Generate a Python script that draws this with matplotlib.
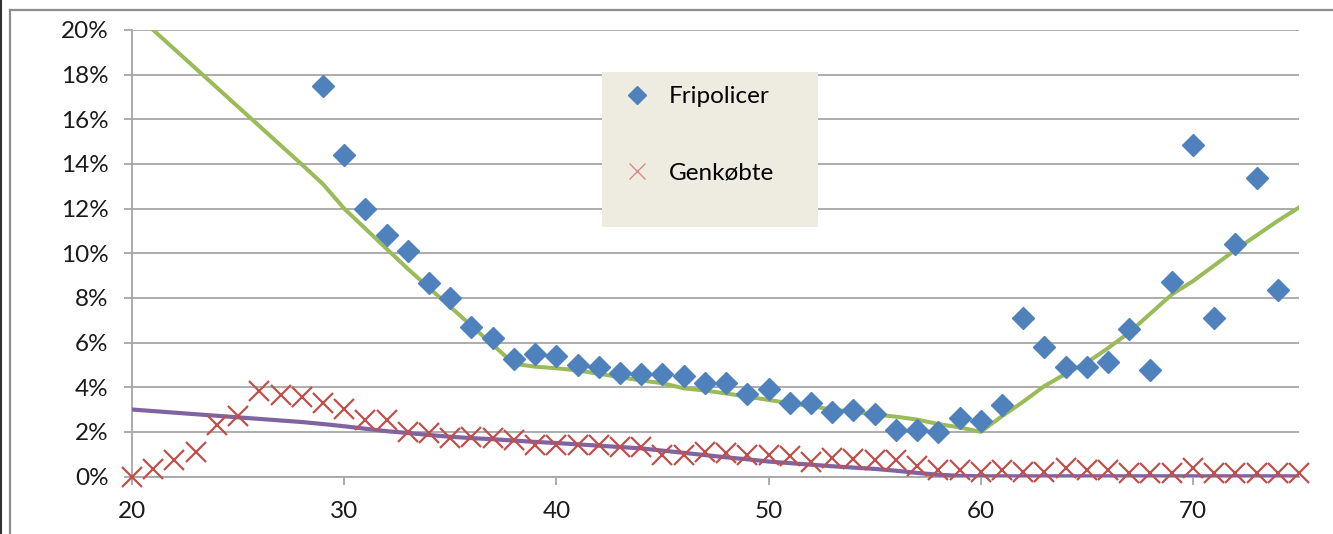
import matplotlib.pyplot as plt
from matplotlib.ticker import FuncFormatter, MultipleLocator
from matplotlib.lines import Line2D

plt.rcParams['font.family'] = ['Lato', 'DejaVu Sans']

# observed shares in percent, by age
fri_ages = list(range(29, 75))
fripolicer = [17.5, 14.4, 12.0, 10.8, 10.1, 8.65, 8.0, 6.7, 6.2, 5.25,
              5.5, 5.4, 5.0, 4.9, 4.65, 4.6, 4.6, 4.5, 4.2, 4.2,
              3.7, 3.9, 3.3, 3.3, 2.9, 3.0, 2.8, 2.1, 2.1, 2.0,
              2.6, 2.5, 3.2, 7.1, 5.8, 4.9, 4.9, 5.15, 6.6, 4.75,
              8.7, 14.85, 7.1, 10.4, 13.35, 8.35]

gen_ages = list(range(20, 76))
genkobte = [0.0, 0.34, 0.76, 1.1, 2.29, 2.71, 3.81, 3.66, 3.56, 3.27,
            3.04, 2.52, 2.52, 2.0, 1.94, 1.72, 1.78, 1.72, 1.63, 1.41,
            1.41, 1.41, 1.4, 1.33, 1.33, 0.96, 0.96, 1.11, 1.04, 0.96,
            0.96, 0.9, 0.67, 0.85, 0.8, 0.75, 0.75, 0.45, 0.3, 0.3,
            0.22, 0.3, 0.22, 0.22, 0.37, 0.3, 0.3, 0.15, 0.15, 0.15,
            0.37, 0.15, 0.15, 0.15, 0.15, 0.15]

# fitted curves, by age
fit_ages = list(range(20, 76))
fri_fit = [20.85, 20.0, 19.14, 18.28, 17.42, 16.56, 15.7, 14.84, 13.98, 13.1,
           12.0, 11.1, 10.2, 9.3, 8.45, 7.6, 6.75, 5.9, 5.05, 4.92,
           4.85, 4.75, 4.6, 4.45, 4.3, 4.18, 3.95, 3.85, 3.72, 3.58,
           3.43, 3.28, 3.15, 3.0, 2.9, 2.78, 2.68, 2.55, 2.35, 2.2,
           2.0, 2.7, 3.35, 4.05, 4.6, 5.1, 5.75, 6.45, 7.3, 8.15,
           8.75, 9.45, 10.15, 10.8, 11.45, 12.05]
gen_fit = [3.0, 2.93, 2.86, 2.79, 2.72, 2.65, 2.58, 2.51, 2.44, 2.35,
           2.25, 2.14, 2.03, 1.95, 1.86, 1.78, 1.72, 1.67, 1.61, 1.55,
           1.5, 1.44, 1.38, 1.32, 1.26, 1.16, 1.06, 0.96, 0.86, 0.77,
           0.67, 0.6, 0.53, 0.46, 0.4, 0.34, 0.26, 0.16, 0.08, 0.03,
           0.01, 0.01, 0.01, 0.01, 0.01, 0.01, 0.01, 0.01, 0.01, 0.01,
           0.01, 0.01, 0.01, 0.01, 0.01, 0.01]

blue = "#4F81BD"
red = "#C0504D"
green = "#9BBB59"
purple = "#8064A2"
grid = "#A6A6A6"

fig = plt.figure(figsize=(13.33, 5.34), dpi=100)
ax = fig.add_axes([132 / 1333, 57.5 / 534, 1167 / 1333, 446.5 / 534])

ax.plot(fit_ages, fri_fit, color=green, lw=2.9, zorder=3)
ax.plot(fit_ages, gen_fit, color=purple, lw=3.0, zorder=3)
ax.plot(fri_ages, fripolicer, ls="none", marker="D", ms=11, color=blue,
        mec=blue, zorder=4, clip_on=False)
ax.plot(gen_ages, genkobte, ls="none", marker="x", ms=14, mew=1.6, color=red,
        zorder=4, clip_on=False)

ax.set_xlim(20, 75)
ax.set_ylim(0, 20)
ax.xaxis.set_major_locator(MultipleLocator(10))
ax.yaxis.set_major_locator(MultipleLocator(2))
ax.yaxis.set_major_formatter(FuncFormatter(lambda v, p: f"{v:.0f}%"))
ax.grid(axis="y", color=grid, lw=1.3)
ax.set_axisbelow(True)
for s in ["top", "right"]:
    ax.spines[s].set_visible(False)
for s in ["left", "bottom"]:
    ax.spines[s].set_color(grid)
    ax.spines[s].set_linewidth(1.3)
ax.tick_params(axis="both", length=6, width=1.3, color=grid, labelsize=17.5,
               labelcolor="#1a1a1a")
ax.tick_params(axis="y", pad=11)
ax.tick_params(axis="x", pad=12)

# legend box
fig.patches.append(plt.Rectangle((602 / 1333, 1 - 227 / 534), 216 / 1333, 155 / 534,
                                 transform=fig.transFigure, facecolor="#EEECE1",
                                 edgecolor="none", zorder=5))
handles = [Line2D([], [], ls="none", marker="D", ms=9, color=blue),
           Line2D([], [], ls="none", marker="x", ms=11, mew=1.0, color="#D98886")]
leg = fig.legend(handles, ["Fripolicer", "Genkøbte"], loc="upper left",
                 bbox_to_anchor=(625 / 1333, 1 - 86 / 534), frameon=False,
                 fontsize=17.5, handlelength=1.0, handletextpad=0.8,
                 labelspacing=2.3, borderpad=0, borderaxespad=0)
leg.set_zorder(6)

# chart frame
fig.add_artist(Line2D([10 / 1333, 1], [1 - 10 / 534, 1 - 10 / 534],
                      transform=fig.transFigure, color="#8C8C8C", lw=1.6))
fig.add_artist(Line2D([10 / 1333, 10 / 1333], [0, 1 - 10 / 534],
                      transform=fig.transFigure, color="#8C8C8C", lw=1.6))
fig.add_artist(Line2D([0.0005, 0.0005], [0, 1], transform=fig.transFigure,
                      color="#333333", lw=1.5))

fig.savefig("out.png", dpi=100)
